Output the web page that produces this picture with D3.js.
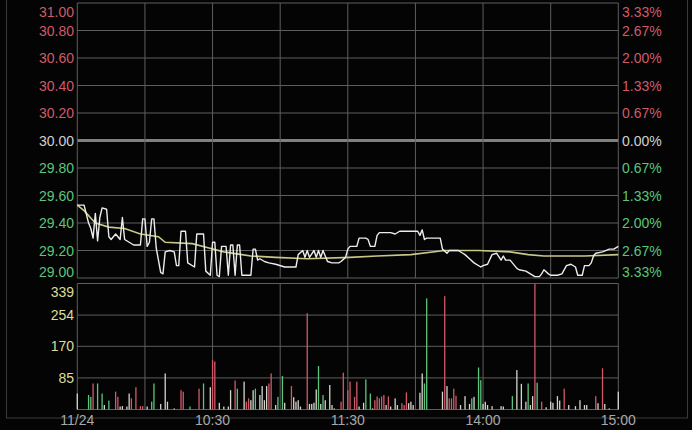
<!DOCTYPE html>
<html><head><meta charset="utf-8">
<script src="https://cdn.jsdelivr.net/npm/d3@7"></script>
<style>
html,body{margin:0;padding:0;background:#000;}
svg{display:block;}
text{font-family:"Liberation Sans",Arial,sans-serif;}
</style></head>
<body>
<svg id="c" width="692" height="430"></svg>
<script>
// ---- data ----
const prevClose = 30.00;
const priceTicks = [31.00, 30.80, 30.60, 30.40, 30.20, 30.00, 29.80, 29.60, 29.40, 29.20, 29.00];
const volTicks = [85, 170, 254, 339];
const timeTickMinutes = [0, 60, 120, 180, 240];
const timeTickLabels = ["11/24", "10:30", "11:30", "14:00", "15:00"];
const gridMinutes = [0, 30, 60, 90, 120, 150, 180, 210, 240];

// [minute, price] vertices of the price line
const priceLine = [
 [0,29.53],[3,29.53],[5,29.40],[6,29.36],[7,29.29],[8,29.47],[9,29.27],[10,29.44],[11,29.51],[13,29.50],
 [14,29.30],[15,29.28],[17,29.32],[19,29.28],[20,29.44],[21,29.28],[23,29.26],[25,29.24],[28,29.24],[29,29.43],
 [30,29.43],[31,29.23],[32,29.26],[33,29.43],[34,29.43],[35,29.22],[37,29.04],[38,29.03],[39,29.19],[41,29.20],
 [43,29.19],[44,29.09],[45,29.09],[46,29.34],[48,29.34],[49,29.11],[52,29.08],[53,29.32],[56,29.32],[57,29.05],
 [59,29.02],[60,29.26],[61,29.26],[62,29.02],[63,29.01],[64,29.23],[66,29.23],[67,29.02],[68,29.24],[69,29.24],
 [70,29.02],[71,29.24],[72,29.24],[73,29.02],[77,29.02],[78,29.21],[79,29.21],[80,29.13],[81,29.14],[83,29.12],
 [85,29.11],[88,29.10],[92,29.08],[97,29.08],[98,29.17],[100,29.20],[101,29.15],[102,29.20],[103,29.15],[105,29.20],
 [106,29.15],[107,29.20],[108,29.15],[109,29.20],[111,29.12],[113,29.11],[116,29.11],[117,29.12],[119,29.15],[120,29.21],
 [121,29.23],[124,29.23],[125,29.29],[128,29.29],[129,29.28],[130,29.23],[132,29.23],[133,29.31],[134,29.33],[139,29.33],
 [141,29.32],[143,29.34],[151,29.34],[152,29.31],[153,29.35],[154,29.28],[155,29.29],[161,29.29],[162,29.21],[164,29.18],
 [165,29.20],[169,29.20],[171,29.18],[172,29.17],[174,29.14],[176,29.11],[179,29.08],[180,29.09],[182,29.10],[184,29.17],
 [186,29.18],[188,29.13],[189,29.16],[190,29.13],[192,29.13],[193,29.11],[195,29.07],[196,29.06],[199,29.05],[201,29.03],
 [203,29.01],[205,29.01],[206,29.03],[207,29.06],[209,29.03],[210,29.02],[213,29.02],[215,29.03],[217,29.09],[219,29.10],
 [221,29.08],[222,29.02],[224,29.02],[225,29.09],[227,29.09],[228,29.11],[229,29.16],[230,29.18],[233,29.19],[236,29.21],
 [238,29.21],[240,29.23]
];

// [minute, average price]
const avgLine = [
 [0,29.53],[3,29.49],[8,29.40],[14,29.37],[21,29.36],[28,29.32],[36,29.30],[39,29.26],[51,29.25],[58,29.22],
 [65,29.19],[73,29.17],[77,29.16],[88,29.15],[102,29.14],[121,29.15],[133,29.16],[148,29.17],[163,29.20],[178,29.20],
 [192,29.19],[200,29.17],[207,29.16],[225,29.16],[240,29.17]
];

// volume bars: minute, volume, direction (r = up, g = down, w = flat)
const volMinutes = [0,5,6,7,9,11,12,14,17,18,19,20,22,23,24,26,28,29,31,33,34,37,39,40,43,46,47,50,54,56,59,60,61,63,65,67,68,70,71,74,75,76,77,78,79,81,82,83,84,85,86,88,89,91,92,95,96,97,98,99,102,103,104,105,106,107,108,109,110,112,113,114,117,118,120,
 121,123,124,125,127,128,130,131,132,133,134,135,136,137,138,139,141,142,144,145,146,147,148,149,152,153,154,155,162,163,164,165,166,167,168,170,172,174,175,176,178,179,180,181,182,184,188,189,193,195,197,199,200,201,202,203,204,206,208,210,211,213,214,216,218,221,223,225,226,230,231,233,234,236,240];
const volValues = [43,39,34,70,70,43,12,24,48,34,8,9,8,43,30,60,9,9,8,21,70,15,97,21,3,52,48,8,56,70,60,133,129,18,8,8,52,78,56,75,21,30,25,52,56,39,63,25,63,70,97,12,34,90,18,63,33,21,25,8,259,15,15,18,54,117,15,39,25,66,12,3,21,99,52,
 75,34,75,8,18,81,43,3,25,35,30,35,39,12,35,8,30,12,17,12,46,17,21,12,45,97,70,299,48,305,63,30,30,56,37,12,36,15,30,34,113,79,15,21,12,9,9,8,36,106,69,21,70,12,36,338,72,21,6,21,18,36,24,56,12,9,25,12,12,36,17,111,15,3,48];
const volDir = ["w","g","g","r","g","g","w","g","r","r","w","w","w","w","r","r","r","r","w","g","g","w","w","w","w","r","r","g","r","g","w","r","r","w","w","w","w","r","g","w","r","r","w","w","g","w","w","w","w","r","r","w","g","g","w","r","w","w","w","w","r","w","w","w","w","g","w","g","w","w","w","w","r","r","r",
 "r","r","r","w","w","g","g","w","r","r","r","r","r","w","r","w","w","w","r","r","r","w","w","w","w","w","g","g","w","r","w","r","r","r","r","w","w","w","g","w","g","g","w","w","w","w","w","w","g","w","w","w","g","w","w","r","g","r","w","w","w","w","w","r","w","w","w","w","w","r","w","r","w","w","w"];

// ---- drawing ----
const svg = d3.select("#c");
const W = 692, H = 430;
const L = 77.3, R = 618.3;
const x = d3.scaleLinear().domain([0, 240]).range([L, R]);
const yP = d3.scaleLinear().domain([29, 31]).range([278, 3]);
const yV = d3.scaleLinear().domain([0, 339]).range([409.5, 283.5]);

svg.append("rect").attr("width", W).attr("height", H).attr("fill", "#040404");
// outer frame
svg.append("rect").attr("x", 6.5).attr("y", -1).attr("width", 681).attr("height", 419)
  .attr("fill", "none").attr("stroke", "#3a3a3a");

const gridCol = "#5e5e5e";
// horizontal price grid
svg.append("g").selectAll("line").data(priceTicks).join("line")
  .attr("x1", L).attr("x2", R)
  .attr("y1", d => yP(d)).attr("y2", d => yP(d))
  .attr("stroke", d => d === prevClose ? "#808080" : gridCol)
  .attr("stroke-width", d => d === prevClose ? 3 : 1);
// volume grid
svg.append("g").selectAll("line").data([0].concat(volTicks)).join("line")
  .attr("x1", L).attr("x2", R)
  .attr("y1", d => yV(d)).attr("y2", d => yV(d))
  .attr("stroke", gridCol).attr("stroke-width", 1);
// vertical grid in both panes
const vg = svg.append("g");
vg.selectAll("line.p").data(gridMinutes).join("line").attr("class", "p")
  .attr("x1", d => x(d)).attr("x2", d => x(d)).attr("y1", yP(31)).attr("y2", yP(29))
  .attr("stroke", gridCol);
vg.selectAll("line.v").data(gridMinutes).join("line").attr("class", "v")
  .attr("x1", d => x(d)).attr("x2", d => x(d)).attr("y1", yV(339)).attr("y2", yV(0))
  .attr("stroke", gridCol);

// price labels
const red = "#d05a6a", green = "#5cc47c", flat = "#d0d0d0";
const colP = d => d > prevClose ? red : d < prevClose ? green : flat;
const labY = (d) => {
  let y = yP(d);
  if (d === 31) y = 11.5;
  if (d === 29) y = 272;
  return y;
};
svg.append("g").selectAll("text").data(priceTicks).join("text")
  .attr("x", 74).attr("y", d => labY(d)).attr("dy", "0.36em")
  .attr("text-anchor", "end").attr("font-size", 14)
  .attr("fill", colP).text(d => d.toFixed(2));
svg.append("g").selectAll("text").data(priceTicks).join("text")
  .attr("x", 622).attr("y", d => labY(d)).attr("dy", "0.36em")
  .attr("text-anchor", "start").attr("font-size", 14)
  .attr("fill", colP).text(d => (Math.abs(d - prevClose) / prevClose * 100).toFixed(2) + "%");

// volume labels
svg.append("g").selectAll("text").data(volTicks).join("text")
  .attr("x", 74).attr("y", d => d === 339 ? 291.5 : yV(d)).attr("dy", "0.36em")
  .attr("text-anchor", "end").attr("font-size", 14)
  .attr("fill", "#dcdc9c").text(d => d);

// time labels
svg.append("g").selectAll("text").data(timeTickMinutes).join("text")
  .attr("x", d => x(d)).attr("y", 420).attr("dy", "0.36em")
  .attr("text-anchor", "middle").attr("font-size", 14)
  .attr("fill", "#a8a8a8").text((d, i) => timeTickLabels[i]);

// volume bars
const vcol = {r: red, g: green, w: "#d4d6cc"};
const bars = volMinutes.map((m, i) => ({m, v: volValues[i], d: volDir[i]}));
svg.append("g").selectAll("rect").data(bars).join("rect")
  .attr("x", d => x(d.m) - 0.65).attr("width", 1.3)
  .attr("y", d => yV(d.v)).attr("height", d => yV(0) - yV(d.v))
  .attr("fill", d => vcol[d.d]);

// lines
const line = d3.line().x(d => x(d[0])).y(d => yP(d[1]));
svg.append("path").datum(avgLine).attr("d", line)
  .attr("fill", "none").attr("stroke", "#c8c888").attr("stroke-width", 1.6);
svg.append("path").datum(priceLine).attr("d", line)
  .attr("fill", "none").attr("stroke", "#ececec").attr("stroke-width", 1.4)
  .attr("stroke-linejoin", "round");
</script>
</body></html>
